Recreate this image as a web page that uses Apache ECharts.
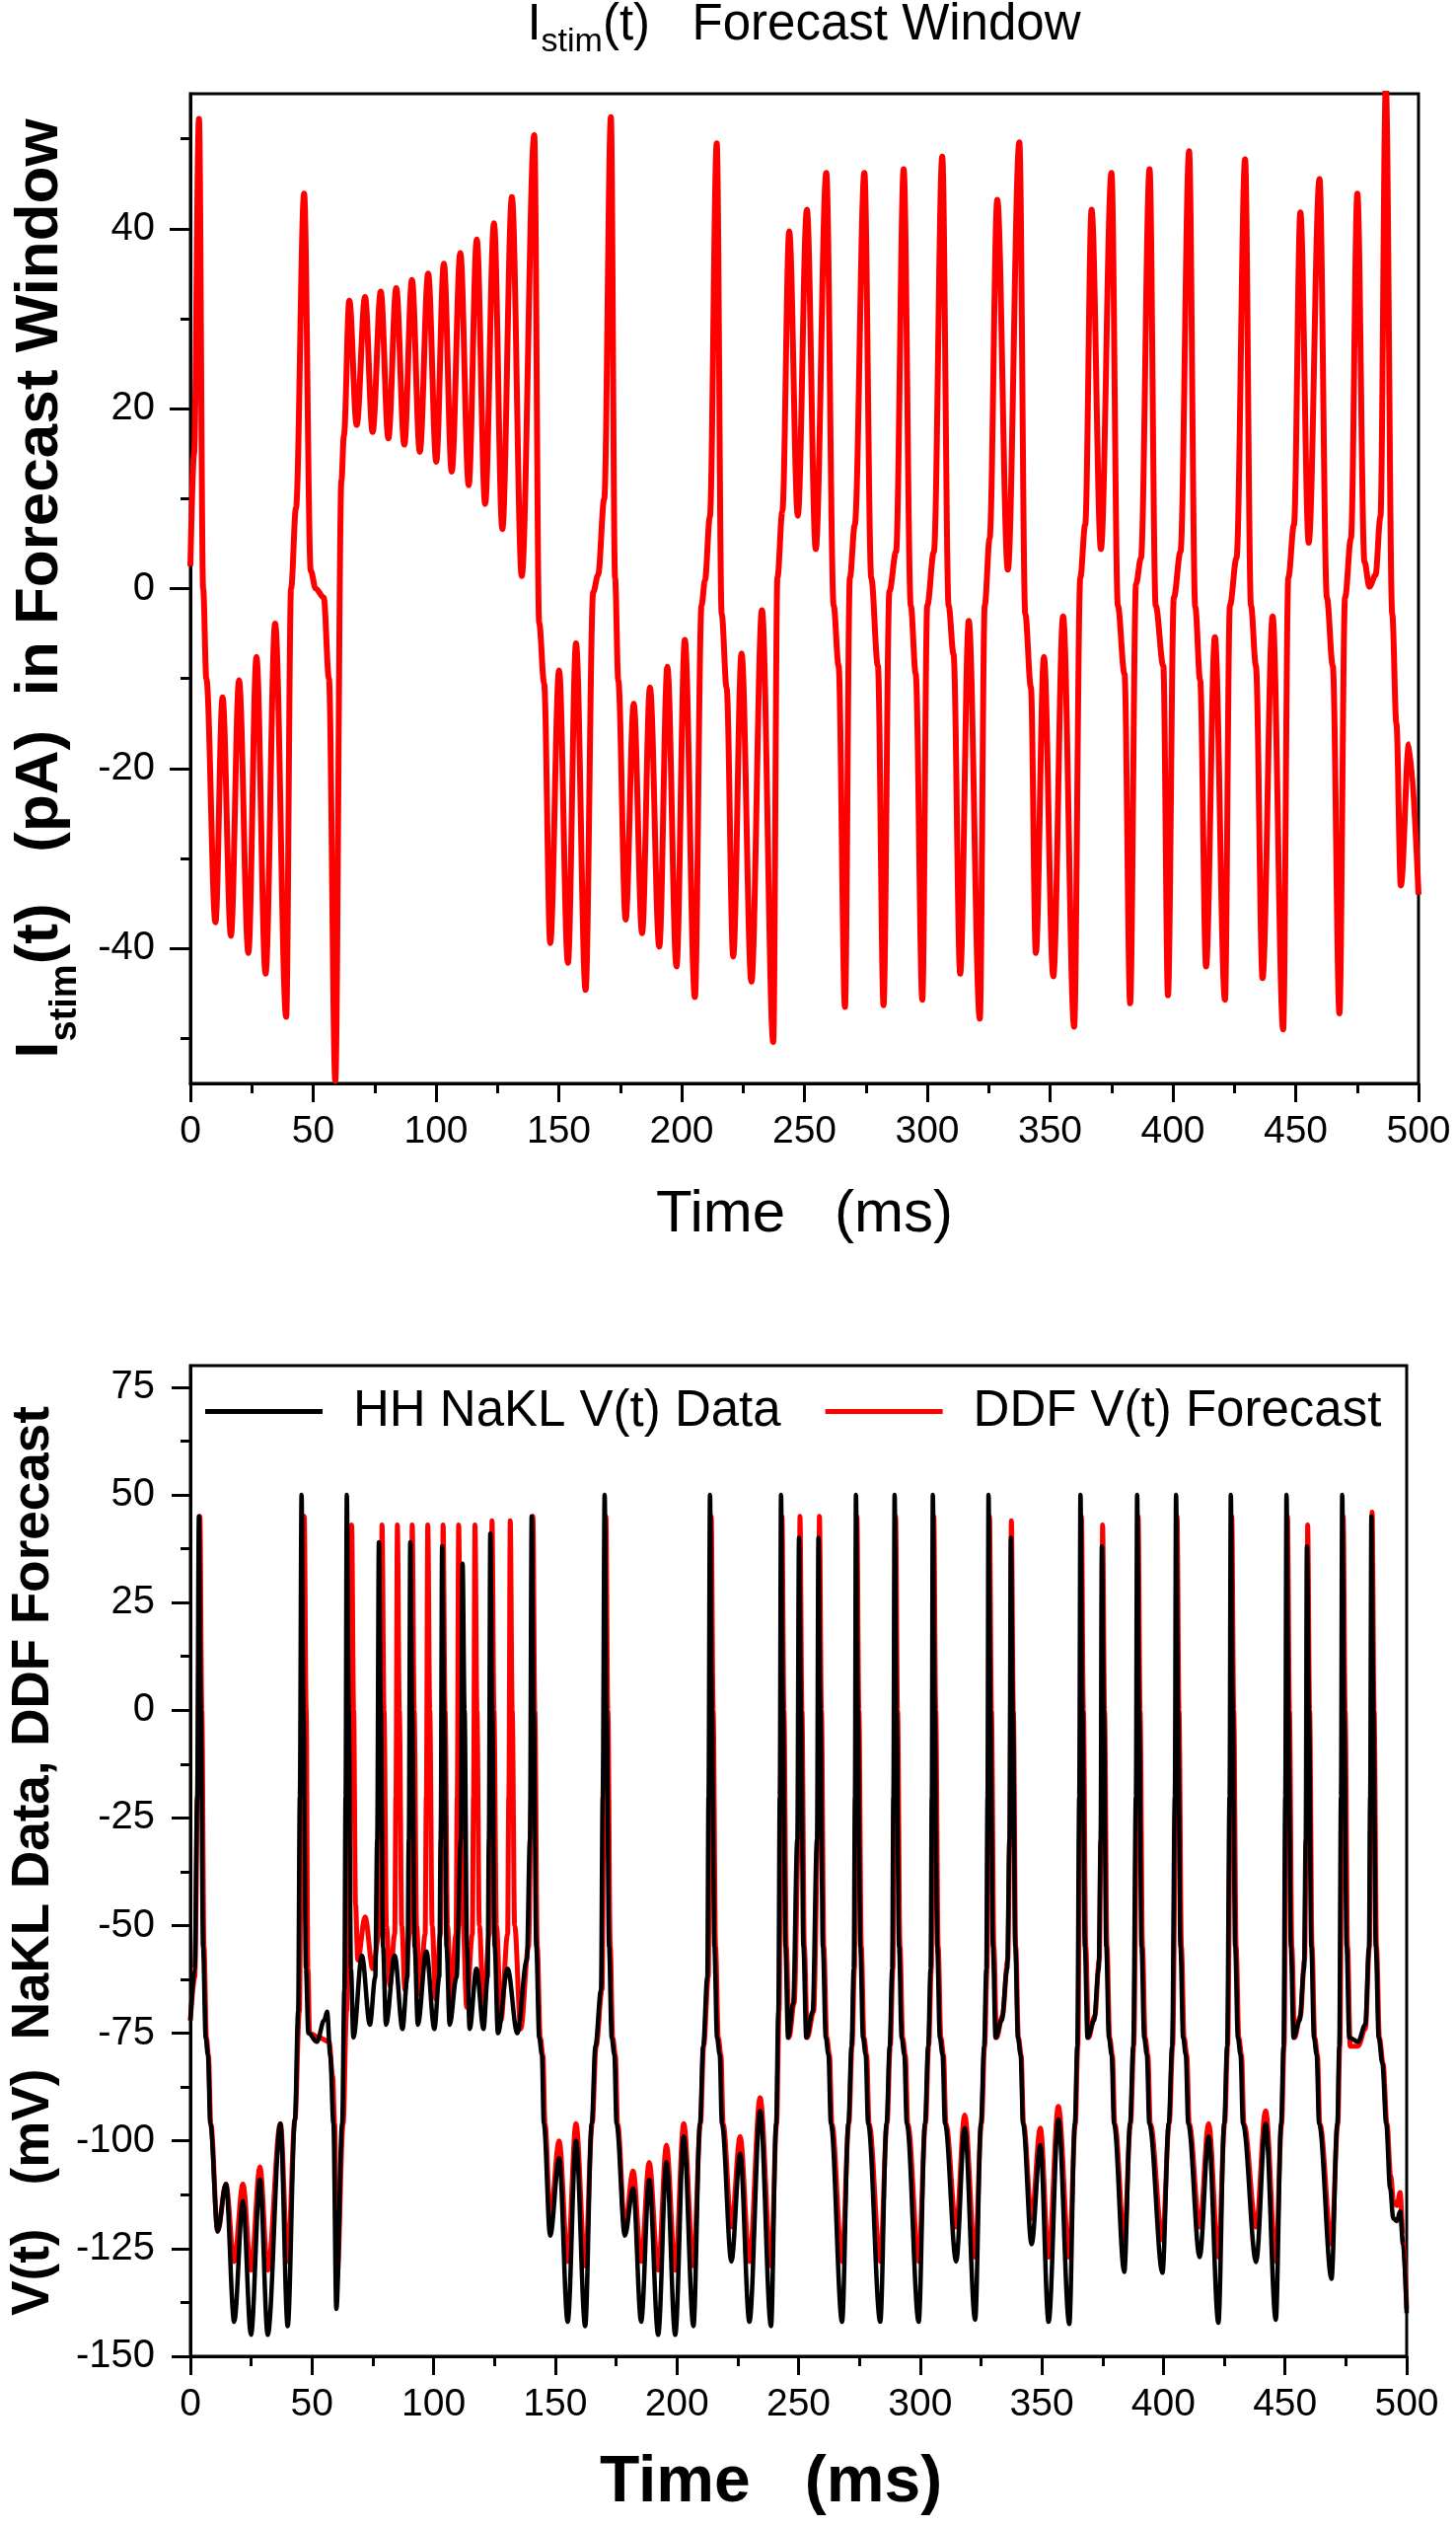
<!DOCTYPE html>
<html><head><meta charset="utf-8">
<script src="https://cdn.jsdelivr.net/npm/echarts@6/dist/echarts.min.js"></script>
<style>html,body{margin:0;padding:0;background:#fff}#c{width:1476px;height:2560px}</style>
</head><body><div id="c"></div>
<script>
const FONT = "'Liberation Sans', Arial, sans-serif";
const xTicks = [0,50,100,150,200,250,300,350,400,450,500];
const topYTicks = [-40,-20,0,20,40];
const topYMinor = [-50,-30,-10,10,30,50];
const botYTicks = [-150,-125,-100,-75,-50,-25,0,25,50,75];
const botYMinor = [-137.5,-112.5,-87.5,-62.5,-37.5,-12.5,12.5,37.5,62.5];

// I_stim(t) forecast (time ms, current pA)
const istimT = [0,1.5,3.5,5.2,6.5,10.2,13.1,16.5,19.8,23.6,26.9,30.6,34.5,39.0,41.0,43.0,46.3,49.0,51,54.3,56.4,59.0,61.5,62.5,64.7,67.7,71.1,74.2,77.5,80.6,83.8,87.1,90.2,93.4,96.8,100.1,103.2,106.4,109.9,113.3,116.6,120.0,123.6,127.0,130.9,134.9,140.0,142.0,144.0,146.5,150.1,153.7,157.0,160.9,164.0,166.0,168.5,171.2,172.9,174.2,177.2,180.5,183.9,187.1,190.9,194.2,197.9,201.3,205.4,208.1,209.5,211.5,214.3,216.3,218.3,221.0,224.4,228.4,232.7,237.3,239.0,241.0,243.8,247.3,251.0,254.6,258.9,261.9,263.9,266.5,268.5,270.5,274.4,277.2,279.9,282.2,284.6,287.3,290.4,293.3,295.3,298.0,300.0,302.7,306.1,308.7,310.7,313.4,316.9,321.4,323.4,325.4,328.5,332.8,337.5,339.9,342.2,344.2,347.5,351.3,355.3,359.8,362.3,364.3,366.9,370.7,375.0,377.6,380.3,382.6,385.0,387.0,390.5,393.0,396.1,398.0,400.4,403.1,406.6,409.1,411.1,413.5,417.1,421.2,423.2,425.9,429.4,431.8,433.8,436.5,440.6,444.9,447.0,449.3,451.9,455.3,459.7,462.7,465.1,467.8,470.1,472.5,475.1,478,480.0,482.5,484.5,486.7,489.3,491,492.8,496.1,500];
const istimV = [2.5,15,52.2,0,-10,-37.1,-12.1,-38.6,-10.2,-40.5,-7.6,-42.8,-3.9,-47.6,0,9,43.9,2,0,-1,-10,-54.7,12,17,32.0,18.2,32.4,17.4,33.0,16.7,33.4,16.0,34.3,15.2,35.0,14.1,36.1,13.0,37.3,11.5,38.8,9.4,40.6,6.6,43.5,1.4,50.4,-3.8,-10.5,-39.4,-9.1,-41.6,-6.1,-44.6,-0.4,1.5,10,52.4,1.2,-10.2,-36.8,-12.8,-38.3,-11.0,-39.8,-8.7,-42.0,-5.7,-45.4,-1.9,0.9,8,49.5,-2.8,-11,-40.9,-7.2,-43.7,-2.4,-50.4,1.2,8.6,39.7,8.1,42.1,4.4,46.2,-1.9,-8.6,-46.5,1.2,7.1,46.2,1.2,-8.6,-46.3,-0.3,4.1,46.6,-1.9,-9.5,-45.7,-1.9,4.1,48.0,-1.9,-7.3,-42.8,-3.6,-47.8,-1.9,5.6,43.2,2.1,49.6,-2.8,-11,-40.5,-7.6,-43.1,-3.1,-48.7,1.2,7.1,42.1,4.4,46.2,-1.9,-9.5,-46.1,0.5,3.4,46.6,-1.9,-8.6,-45.2,-1.0,4.1,48.6,-2.0,-10.2,-42.0,-5.4,-45.7,-1.9,3.4,47.7,-1.9,-8.6,-43.3,-3.1,-49.0,1.2,7.1,41.8,5.1,45.5,-1.0,-8.6,-47.2,-1.0,5.6,43.9,3,0.2,1.5,8,56,-2.8,-15,-33.0,-17.3,-34];

// HH NaKL V(t) data: [time ms, mV]
const hhData = [
[0,-72],[1.8,-60],[2.8,-20],[3.5,45],[4.3,0],[5.2,-55],[6.3,-76],[7.2,-80],[8.2,-96],[11.2,-121],
[14.6,-110],[18.0,-142],[21.6,-114],[24.9,-145],[28.6,-109],[31.8,-145],[37.0,-96],[40.0,-143],[43.0,-95],[44.3,-70],
[45.0,-20],[45.7,50],[46.5,0],[47.5,-60],[48.5,-75],[52.0,-77],[55.0,-72],[56.2,-70],[57.5,-80],[58.8,-96],
[60.0,-139],[62.4,-96],[63.3,-65],[63.8,-20],[64.3,50],[65.1,0],[66.0,-60],[67.0,-76],[70.5,-57],[73.8,-73],
[76.0,-62],[76.8,-30],[77.5,39],[78.3,0],[79.2,-55],[80.4,-73],[84.0,-57],[87.2,-74],[89.2,-62],[89.8,-30],
[90.4,39],[91.2,0],[92.2,-55],[93.5,-73],[97.0,-56],[100.3,-74],[102.3,-62],[102.9,-30],[103.5,38],[104.3,0],
[105.3,-55],[106.6,-73],[109.4,-62],[111.2,-30],[111.9,34],[112.7,0],[113.7,-55],[114.8,-74],[117.6,-60],[120.5,-74],
[122.2,-62],[122.7,-30],[123.3,41],[124.1,0],[125.1,-55],[126.4,-75],[130.4,-60],[134.4,-75],[138.3,-58],[139.6,-30],
[140.3,45],[141.1,0],[142.2,-55],[143.4,-76],[144.5,-80],[145.3,-96],[147.9,-122],[151.6,-104],[155.1,-142],[158.5,-100],
[162.3,-143],[165.0,-96],[166.5,-78],[168.8,-65],[169.5,-20],[170.3,50],[171.1,0],[172.1,-55],[173.2,-76],[174.3,-80],
[175.2,-96],[178.6,-122],[182.0,-111],[185.3,-142],[188.6,-109],[192.3,-145],[195.7,-105],[199.3,-145],[202.8,-99],[206.8,-143],
[209.5,-96],[210.8,-78],[212.5,-62],[213.0,-20],[213.6,50],[214.4,0],[215.4,-55],[216.5,-76],[217.6,-80],[218.5,-96],
[222.4,-128],[226.0,-103],[229.8,-142],[234.2,-93],[238.7,-143],[240.8,-96],[241.7,-70],[242.3,-20],[242.8,50],[243.6,0],
[244.6,-55],[245.7,-76],[247.8,-68],[249.5,-30],[250.2,40],[251.0,0],[252.0,-55],[253.2,-76],[255.8,-70],[257.6,-30],
[258.2,40],[259.0,0],[260.0,-55],[261.2,-76],[262.3,-80],[263.3,-96],[267.9,-142],[270.5,-96],[271.8,-78],[272.7,-60],
[273.2,-20],[273.6,50],[274.4,0],[275.4,-55],[276.5,-76],[277.6,-80],[278.6,-96],[283.6,-142],[286.2,-96],[287.5,-78],
[288.5,-60],[289.0,-20],[289.5,50],[290.3,0],[291.3,-55],[292.4,-76],[293.5,-80],[294.5,-96],[299.4,-142],[302.0,-96],
[303.3,-78],[304.3,-60],[304.8,-20],[305.2,50],[306.0,0],[307.0,-55],[308.1,-76],[309.2,-80],[310.2,-96],[314.8,-128],
[318.3,-97],[322.6,-141.5],[325.0,-96],[326.3,-78],[327.2,-60],[327.7,-20],[328.1,50],[328.9,0],[329.9,-55],[331.0,-76],
[333.5,-72],[335.8,-60],[336.7,-30],[337.3,40],[338.1,0],[339.1,-55],[340.2,-76],[341.3,-80],[342.3,-96],[345.8,-124],
[349.4,-101],[352.8,-142],[356.8,-95],[361.3,-142.5],[363.6,-96],[364.6,-78],[365.4,-20],[365.9,50],[366.7,0],[367.7,-55],
[368.8,-76],[371.5,-72],[373.4,-60],[374.2,-30],[374.7,38],[375.5,0],[376.5,-55],[377.6,-76],[378.7,-80],[379.7,-96],
[383.9,-130.4],[386.3,-96],[387.6,-78],[388.7,-20],[389.2,50],[390.0,0],[391.0,-55],[392.1,-76],[393.2,-80],[394.2,-96],
[399.6,-130.6],[402.2,-96],[403.6,-78],[404.7,-20],[405.2,50],[406.0,0],[407.0,-55],[408.1,-76],[409.2,-80],[410.2,-96],
[414.9,-127],[418.6,-99],[422.6,-142.2],[425.0,-96],[426.2,-78],[427.2,-20],[427.7,50],[428.5,0],[429.5,-55],[430.6,-76],
[431.7,-80],[432.7,-96],[438.1,-128.1],[442.0,-96],[446.2,-141.5],[448.4,-96],[449.4,-78],[450.1,-20],[450.6,50],[451.4,0],
[452.4,-55],[453.5,-76],[456.0,-72],[457.8,-60],[458.5,-30],[459.0,38],[459.8,0],[460.8,-55],[461.9,-76],[463.0,-80],
[464.0,-96],[469.1,-132],[471.5,-96],[472.3,-78],[473.0,-20],[473.5,50],[474.3,0],[475.3,-55],[476.4,-76],[480.0,-77],
[483.0,-73],[484.5,-55],[485.0,-20],[485.5,45],[486.3,0],[487.3,-55],[488.5,-76],[490.0,-82],[491.6,-96],[493.2,-111],
[494.5,-118],[496.0,-118.6],[497.3,-116.3],[498.5,-124],[500,-140]
];

// DDF V(t) forecast: [time ms, mV]
const ddfData = [
[0,-72],[1.8,-62],[3.0,-20],[3.9,45],[4.7,0],[5.6,-55],[6.6,-76],[7.4,-80],[8.4,-96],[11.2,-121],
[14.6,-110],[18.0,-128],[21.6,-110],[24.9,-130],[28.6,-106],[31.8,-130],[37.0,-96],[40.0,-128],[43.0,-95],[44.8,-70],
[45.7,-20],[46.8,45],[47.6,0],[48.3,-60],[49.0,-75],[53.0,-76],[57.0,-77],[58.5,-85],[59.3,-96],[60.3,-132],
[62.8,-96],[64.2,-70],[65.6,-20],[66.3,43],[67.1,0],[67.9,-45],[68.8,-58],[71.8,-48],[75.0,-60],[77.6,-52],
[78.2,-20],[78.8,43],[79.6,0],[80.6,-50],[82.0,-64],[84.0,-52],[84.5,-20],[85.1,43],[85.9,0],[86.9,-50],
[88.2,-65],[90.1,-52],[90.6,-20],[91.2,43],[92.0,0],[93.0,-50],[94.4,-66],[96.5,-52],[97.0,-20],[97.6,43],
[98.4,0],[99.4,-50],[100.8,-67],[102.8,-52],[103.3,-20],[103.9,43],[104.7,0],[105.7,-50],[107.1,-68],[109.2,-52],
[109.7,-20],[110.3,43],[111.1,0],[112.1,-50],[113.6,-69],[115.9,-52],[116.4,-20],[117.0,43],[117.8,0],[118.8,-50],
[120.5,-70],[122.9,-52],[123.4,-20],[124.0,44],[124.8,0],[125.8,-50],[127.7,-72],[130.4,-52],[130.9,-20],[131.5,44],
[132.3,0],[133.3,-50],[135.8,-74],[139.0,-55],[140.2,-20],[140.8,45],[141.6,0],[142.6,-55],[143.8,-76],[144.9,-80],
[145.8,-96],[147.9,-118],[151.6,-100],[155.1,-128],[158.5,-96],[162.3,-129],[165.2,-96],[166.8,-78],[169.2,-65],[170.0,-20],
[170.8,45],[171.6,0],[172.6,-55],[173.6,-76],[174.7,-80],[175.6,-96],[178.6,-120],[182.0,-107],[185.3,-128],[188.6,-105],
[192.3,-130],[195.7,-101],[199.3,-130],[202.8,-96],[206.8,-129],[209.7,-96],[211.0,-78],[212.9,-62],[213.5,-20],[214.1,45],
[214.9,0],[215.9,-55],[217.0,-76],[218.1,-80],[219.0,-96],[222.4,-120],[226.0,-99],[229.8,-128],[234.2,-90],[238.7,-129],
[241.0,-96],[242.0,-70],[242.7,-20],[243.2,45],[244.0,0],[245.0,-55],[246.1,-76],[248.2,-68],[250.0,-30],[250.6,45],
[251.4,0],[252.4,-55],[253.6,-76],[256.2,-70],[258.0,-30],[258.6,45],[259.4,0],[260.4,-55],[261.6,-76],[262.7,-80],
[263.7,-96],[267.9,-128],[270.7,-96],[272.0,-78],[273.0,-60],[273.5,-20],[274.0,45],[274.8,0],[275.8,-55],[276.9,-76],
[278.0,-80],[279.0,-96],[283.6,-128],[286.4,-96],[287.7,-78],[288.8,-60],[289.3,-20],[289.9,45],[290.7,0],[291.7,-55],
[292.8,-76],[293.9,-80],[294.9,-96],[299.4,-128],[302.2,-96],[303.5,-78],[304.6,-60],[305.1,-20],[305.6,45],[306.4,0],
[307.4,-55],[308.5,-76],[309.6,-80],[310.6,-96],[314.8,-120],[318.3,-94],[322.6,-127],[325.2,-96],[326.5,-78],[327.5,-60],
[328.0,-20],[328.5,45],[329.3,0],[330.3,-55],[331.4,-76],[333.8,-71],[336.0,-58],[336.9,-30],[337.5,44],[338.3,0],
[339.3,-55],[340.4,-76],[341.5,-80],[342.5,-96],[345.8,-118],[349.4,-97],[352.8,-127],[356.8,-92],[361.3,-127],[363.8,-96],
[364.8,-78],[365.8,-20],[366.3,45],[367.1,0],[368.1,-55],[369.2,-76],[371.8,-71],[373.6,-58],[374.4,-30],[375.0,43],
[375.8,0],[376.8,-55],[377.9,-76],[379.0,-80],[380.0,-96],[383.9,-123],[386.5,-96],[387.8,-78],[389.1,-20],[389.6,45],
[390.4,0],[391.4,-55],[392.5,-76],[393.6,-80],[394.6,-96],[399.6,-123],[402.4,-96],[403.8,-78],[405.1,-20],[405.6,45],
[406.4,0],[407.4,-55],[408.5,-76],[409.6,-80],[410.6,-96],[414.9,-120],[418.6,-96],[422.6,-127],[425.2,-96],[426.4,-78],
[427.6,-20],[428.1,45],[428.9,0],[429.9,-55],[431.0,-76],[432.1,-80],[433.1,-96],[438.1,-120],[442.0,-93],[446.2,-128],
[448.6,-96],[449.6,-78],[450.5,-20],[451.0,45],[451.8,0],[452.8,-55],[453.9,-76],[456.3,-71],[458.0,-58],[458.8,-30],
[459.3,43],[460.1,0],[461.1,-55],[462.2,-76],[463.3,-80],[464.3,-96],[469.1,-124],[471.7,-96],[472.5,-78],[473.4,-20],
[473.9,45],[474.7,0],[475.7,-55],[476.8,-78],[480.0,-78],[483.0,-74],[484.7,-55],[485.3,-20],[485.8,46],[486.6,0],
[487.6,-55],[488.8,-76],[490.3,-82],[491.9,-96],[493.4,-108],[494.6,-114],[496.0,-115],[497.3,-112],[498.5,-122],[500,-139]
];

function pairs(t, v) { return t.map((x, i) => [x, v[i]]); }

const black = '#000';
function xAxisFor(grid, nameOpts) {
  return Object.assign({
    gridIndex: grid, type: 'value', min: 0, max: 500, interval: 50,
    axisLine: {show: true, onZero: false, lineStyle: {color: black, width: 3}},
    splitLine: {show: false},
    axisTick: {show: true, inside: false, length: 19, lineStyle: {color: black, width: 3}},
    minorTick: {show: true, splitNumber: 2, length: 10, lineStyle: {color: black, width: 3}},
    axisLabel: {margin: 30, fontSize: 39, color: black, fontFamily: FONT},
    nameLocation: 'middle'
  }, nameOpts);
}

const chart = echarts.init(document.getElementById('c'), null, {renderer: 'canvas'});
chart.setOption({
  animation: false,
  backgroundColor: '#fff',
  title: {
    text: '{a|I}{s|stim}{a|(t)   Forecast Window}',
    left: 815, textAlign: 'center', top: -9, padding: 0,
    textStyle: {
      rich: {
        a: {fontSize: 51, fontFamily: FONT, color: black, fontWeight: 'normal'},
        s: {fontSize: 34, fontFamily: FONT, color: black, fontWeight: 'normal', padding: [35, 0, 0, 0]}
      }
    }
  },
  legend: {
    data: ['HH NaKL V(t) Data', 'DDF V(t) Forecast'],
    left: 203, top: 1400, icon: 'rect', itemWidth: 119, itemHeight: 5, itemGap: 45,
    textStyle: {fontSize: 51, color: black, fontFamily: FONT, padding: [0, 0, 0, 26]}
  },
  grid: [
    {left: 193, top: 95, width: 1245, height: 1003, show: true, borderColor: black, borderWidth: 3, backgroundColor: 'transparent'},
    {left: 183, top: 1384, width: 1243, height: 1004, show: true, borderColor: black, borderWidth: 3, backgroundColor: 'transparent'}
  ],
  xAxis: [
    xAxisFor(0, {name: 'Time   (ms)', nameGap: 103, nameTextStyle: {fontSize: 60, fontFamily: FONT, color: black}}),
    xAxisFor(1, {name: 'Time   (ms)', nameGap: 96, nameTextStyle: {fontSize: 66, fontFamily: FONT, color: black, fontWeight: 'bold', padding: [0, 56, 0, 0]}})
  ],
  yAxis: [
    {
      gridIndex: 0, type: 'value', min: -55, max: 55,
      axisLine: {show: true, onZero: false, lineStyle: {color: black, width: 3}},
      splitLine: {show: false},
      axisTick: {show: true, inside: false, length: 21, customValues: topYTicks, lineStyle: {color: black, width: 3}},
      axisLabel: {margin: 36, fontSize: 40, color: black, fontFamily: FONT, customValues: topYTicks},
      name: '{a|I}{s|stim}{a|(t)   (pA)  in Forecast Window}', nameLocation: 'middle', nameGap: 107, nameRotate: 90,
      nameTextStyle: {
        rich: {
          a: {fontSize: 62, fontWeight: 'bold', fontFamily: FONT, color: black},
          s: {fontSize: 38, fontWeight: 'bold', fontFamily: FONT, color: black, padding: [53, 0, 0, 0]}
        }
      }
    },
    {
      gridIndex: 0, type: 'value', min: -55, max: 55, position: 'left',
      axisLine: {show: false, onZero: false}, splitLine: {show: false}, axisLabel: {show: false},
      axisTick: {show: true, inside: false, length: 10, customValues: topYMinor, lineStyle: {color: black, width: 3}}
    },
    {
      gridIndex: 1, type: 'value', min: -150, max: 80,
      axisLine: {show: true, onZero: false, lineStyle: {color: black, width: 3}},
      splitLine: {show: false},
      axisTick: {show: true, inside: false, length: 19, customValues: botYTicks, lineStyle: {color: black, width: 3}},
      axisLabel: {margin: 36, fontSize: 40, color: black, fontFamily: FONT, customValues: botYTicks},
      name: 'V(t)   (mV)  NaKL Data, DDF Forecast', nameLocation: 'middle', nameGap: 132, nameRotate: 90,
      nameTextStyle: {fontSize: 53, fontWeight: 'bold', fontFamily: FONT, color: black}
    },
    {
      gridIndex: 1, type: 'value', min: -150, max: 80, position: 'left',
      axisLine: {show: false, onZero: false}, splitLine: {show: false}, axisLabel: {show: false},
      axisTick: {show: true, inside: false, length: 10, customValues: botYMinor, lineStyle: {color: black, width: 3}}
    }
  ],
  series: [
    {
      name: 'Istim', type: 'line', xAxisIndex: 0, yAxisIndex: 0,
      data: pairs(istimT, istimV), showSymbol: false, symbol: 'none',
      smooth: 0.35, smoothMonotone: 'x',
      lineStyle: {color: '#ff0000', width: 6}, itemStyle: {color: '#ff0000'}
    },
    {
      name: 'DDF V(t) Forecast', type: 'line', xAxisIndex: 1, yAxisIndex: 2,
      data: ddfData, showSymbol: false, symbol: 'none',
      smooth: 0.35, smoothMonotone: 'x',
      lineStyle: {color: '#ff0000', width: 5}, itemStyle: {color: '#ff0000'}
    },
    {
      name: 'HH NaKL V(t) Data', type: 'line', xAxisIndex: 1, yAxisIndex: 2,
      data: hhData, showSymbol: false, symbol: 'none',
      smooth: 0.35, smoothMonotone: 'x',
      lineStyle: {color: '#000000', width: 4.5}, itemStyle: {color: '#000000'}
    }
  ]
});
</script>
</body></html>
